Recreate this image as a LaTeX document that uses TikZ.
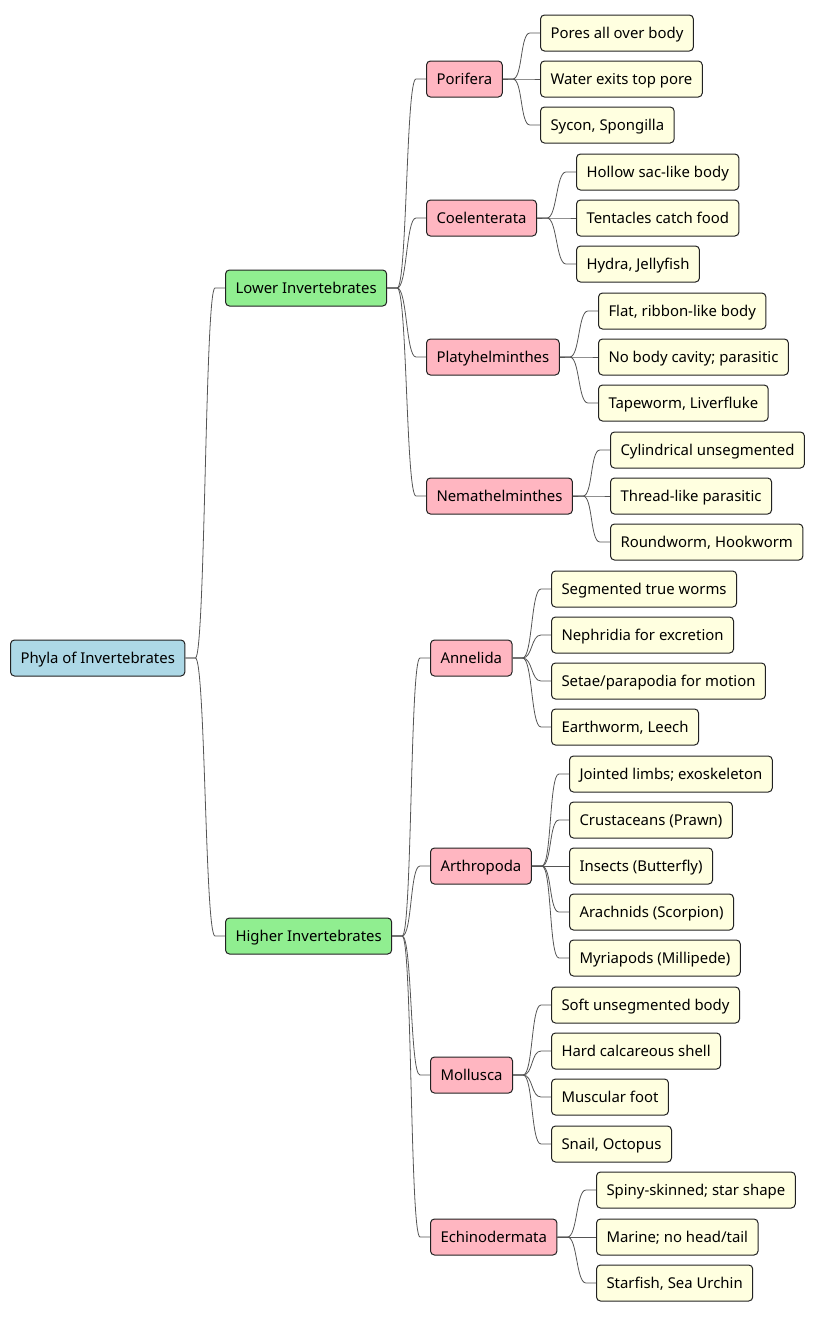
\documentclass[tikz,border=0pt]{standalone}
\usepackage{fontspec}
\setmainfont{Noto Sans}
\definecolor{rootc}{HTML}{ADD8E6}
\definecolor{lvlone}{HTML}{90EE90}
\definecolor{lvltwo}{HTML}{FFB6C1}
\definecolor{leafc}{HTML}{FFFFE0}
\definecolor{edgec}{HTML}{222222}
\definecolor{connc}{HTML}{555555}
\begin{document}
\begin{tikzpicture}[x=1pt,y=-1pt,
  box/.style={draw=edgec, line width=1pt, rounded corners=4pt, anchor=west,
    minimum height=36pt, inner xsep=10pt, inner ysep=0pt,
    text height=12.5pt, text depth=2pt,
    font=\fontsize{14.9}{17}\selectfont, text=black},
  rootbox/.style={box, fill=rootc},
  onebox/.style={box, fill=lvlone},
  twobox/.style={box, fill=lvltwo},
  leafbox/.style={box, fill=leafc},
  conn/.style={draw=connc, line width=0.8pt}
]
\useasboundingbox (0,0) rectangle (826,1317);

\newcommand{\link}[2]{\draw[conn] (#1.east) -- ++(10pt,0) .. controls +(10pt,0) and +(-10pt,0) .. ([xshift=-10pt]#2.west) -- (#2.west);}

\node[rootbox] (root) at (10,658) {Phyla of Invertebrates};

\node[onebox] (low) at (225,288) {Lower Invertebrates};
\node[onebox] (high) at (225,936) {Higher Invertebrates};

\node[twobox] (por) at (426,79) {Porifera};
\node[twobox] (coe) at (426,218) {Coelenterata};
\node[twobox] (pla) at (426,357) {Platyhelminthes};
\node[twobox] (nem) at (426,496) {Nemathelminthes};
\node[twobox] (ann) at (430,658) {Annelida};
\node[twobox] (art) at (430,866) {Arthropoda};
\node[twobox] (mol) at (430,1075) {Mollusca};
\node[twobox] (ech) at (430,1237) {Echinodermata};

\node[leafbox] (por1) at (540,33) {Pores all over body};
\node[leafbox] (por2) at (540,79) {Water exits top pore};
\node[leafbox] (por3) at (540,125) {Sycon, Spongilla};

\node[leafbox] (coe1) at (576,172) {Hollow sac-like body};
\node[leafbox] (coe2) at (576,218) {Tentacles catch food};
\node[leafbox] (coe3) at (576,264) {Hydra, Jellyfish};

\node[leafbox] (pla1) at (598,311) {Flat, ribbon-like body};
\node[leafbox] (pla2) at (598,357) {No body cavity; parasitic};
\node[leafbox] (pla3) at (598,403) {Tapeworm, Liverfluke};

\node[leafbox] (nem1) at (610,450) {Cylindrical unsegmented};
\node[leafbox] (nem2) at (610,496) {Thread-like parasitic};
\node[leafbox] (nem3) at (610,542) {Roundworm, Hookworm};

\node[leafbox] (ann1) at (551,589) {Segmented true worms};
\node[leafbox] (ann2) at (551,635) {Nephridia for excretion};
\node[leafbox] (ann3) at (551,681) {Setae/parapodia for motion};
\node[leafbox] (ann4) at (551,727) {Earthworm, Leech};

\node[leafbox] (art1) at (569,774) {Jointed limbs; exoskeleton};
\node[leafbox] (art2) at (569,820) {Crustaceans (Prawn)};
\node[leafbox] (art3) at (569,866) {Insects (Butterfly)};
\node[leafbox] (art4) at (569,912) {Arachnids (Scorpion)};
\node[leafbox] (art5) at (569,958) {Myriapods (Millipede)};

\node[leafbox] (mol1) at (551,1005) {Soft unsegmented body};
\node[leafbox] (mol2) at (551,1051) {Hard calcareous shell};
\node[leafbox] (mol3) at (551,1097) {Muscular foot};
\node[leafbox] (mol4) at (551,1144) {Snail, Octopus};

\node[leafbox] (ech1) at (596,1190) {Spiny-skinned; star shape};
\node[leafbox] (ech2) at (596,1237) {Marine; no head/tail};
\node[leafbox] (ech3) at (596,1283) {Starfish, Sea Urchin};

\link{root}{low}
\link{root}{high}
\link{low}{por}
\link{low}{coe}
\link{low}{pla}
\link{low}{nem}
\link{high}{ann}
\link{high}{art}
\link{high}{mol}
\link{high}{ech}
\link{por}{por1}\link{por}{por2}\link{por}{por3}
\link{coe}{coe1}\link{coe}{coe2}\link{coe}{coe3}
\link{pla}{pla1}\link{pla}{pla2}\link{pla}{pla3}
\link{nem}{nem1}\link{nem}{nem2}\link{nem}{nem3}
\link{ann}{ann1}\link{ann}{ann2}\link{ann}{ann3}\link{ann}{ann4}
\link{art}{art1}\link{art}{art2}\link{art}{art3}\link{art}{art4}\link{art}{art5}
\link{mol}{mol1}\link{mol}{mol2}\link{mol}{mol3}\link{mol}{mol4}
\link{ech}{ech1}\link{ech}{ech2}\link{ech}{ech3}
\end{tikzpicture}
\end{document}
